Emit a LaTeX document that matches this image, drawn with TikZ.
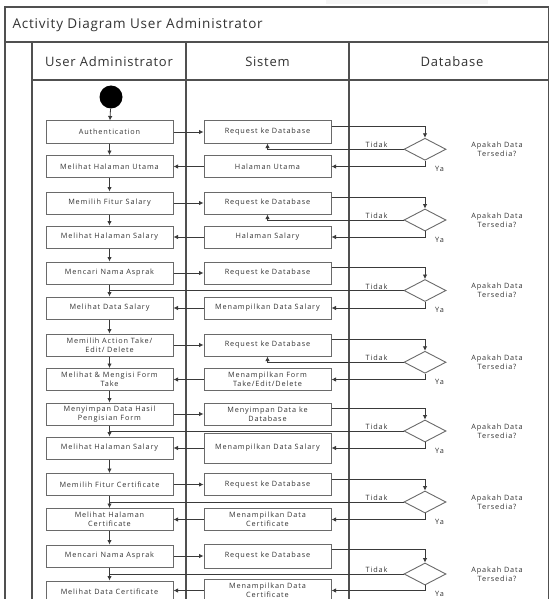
\documentclass[tikz,border=0pt]{standalone}
\usepackage{fontspec}
\setmainfont{Open Sans}
\newfontfamily\boxfont[LetterSpace=12]{Open Sans}
\newfontfamily\headfont[LetterSpace=6]{Open Sans}
\usetikzlibrary{shapes.geometric,arrows.meta,calc}
\definecolor{frame}{HTML}{505050}
\definecolor{boxline}{HTML}{6A6A6A}
\definecolor{txt}{HTML}{333333}
\definecolor{conn}{HTML}{3A3A3A}
\tikzset{
  act/.style={draw=boxline, line width=1pt, fill=white, minimum width=127pt, minimum height=22pt,
    inner sep=0pt, align=center, text=txt, font=\boxfont\fontsize{7.3}{8.6}\selectfont},
  dec/.style={diamond, draw=boxline, line width=0.9pt, fill=white, minimum width=42pt, minimum height=22pt, inner sep=0pt},
  flow/.style={draw=conn, line width=0.8pt, -{Latex[length=4.5pt,width=4.5pt]}},
  plain/.style={draw=conn, line width=0.8pt},
  small/.style={text=txt, font=\boxfont\fontsize{7.3}{8.6}\selectfont, inner sep=1pt, align=center},
  heading/.style={text=txt, font=\headfont\fontsize{13}{15}\selectfont},
  framel/.style={draw=frame, line width=1.5pt}
}
\begin{document}
\begin{tikzpicture}[x=1pt,y=-1pt]
\useasboundingbox (0,0) rectangle (550,599);
\clip (0,0) rectangle (550,599);
\fill[white] (0,0) rectangle (550,599);
\fill[gray!8] (326,0) rectangle (488,4);
% frame
\draw[framel] (5,7) rectangle (548.5,640);
\draw[framel] (5,42) -- (548.5,42);
\draw[framel] (32,42) -- (32,640);
\draw[framel] (32,80) -- (548.5,80);
\draw[framel] (186,42) -- (186,640);
\draw[framel] (349,42) -- (349,640);
\node[heading, anchor=west, font=\headfont\fontsize{13.5}{15}\selectfont] (title) at (9,25) {Activity Diagram User Administrator};
\node[heading] (h1) at (109,62) {User Administrator};
\node[heading] (h2) at (267.5,62) {Sistem};
\node[heading] (h3) at (452,62) {Database};
% start
\node[circle, fill=black, minimum size=23pt, inner sep=0pt] (start) at (111,97) {};
% admin column
\node[act] (a1) at (109.5,132) {Authentication};
\node[act] (a2) at (109.5,166.5) {Melihat Halaman Utama};
\node[act] (a3) at (109.5,203) {Memilih Fitur Salary};
\node[act] (a4) at (109.5,237) {Melihat Halaman Salary};
\node[act] (a5) at (109.5,273) {Mencari Nama Asprak};
\node[act] (a6) at (109.5,308) {Melihat Data Salary};
\node[act] (a7) at (109.5,345) {Memilih Action Take/\\Edit/ Delete};
\node[act] (a8) at (109.5,379.5) {Melihat \& Mengisi Form\\Take};
\node[act] (a9) at (109.5,414) {Menyimpan Data Hasil\\Pengisian Form};
\node[act] (a10) at (109.5,448) {Melihat Halaman Salary};
\node[act] (a11) at (109.5,484.5) {Memilih Fitur Certificate};
\node[act] (a12) at (109.5,519.5) {Melihat Halaman\\Certificate};
\node[act] (a13) at (109.5,556) {Mencari Nama Asprak};
\node[act] (a14) at (109.5,592) {Melihat Data Certificate};
% sistem column
\node[act] (s1) at (267.5,132) {Request ke Database};
\node[act] (s2) at (267.5,166.5) {Halaman Utama};
\node[act] (s3) at (267.5,203) {Request ke Database};
\node[act] (s4) at (267.5,237) {Halaman Salary};
\node[act] (s5) at (267.5,273) {Request ke Database};
\node[act] (s6) at (267.5,308) {Menampilkan Data Salary};
\node[act] (s7) at (267.5,345) {Request ke Database};
\node[act] (s8) at (267.5,379.5) {Menampilkan Form\\Take/Edit/Delete};
\node[act] (s9) at (267.5,414) {Menyimpan Data ke\\Database};
\node[act, minimum height=30pt] (s10) at (267.5,448) {Menampilkan Data Salary};
\node[act] (s11) at (267.5,484.5) {Request ke Database};
\node[act] (s12) at (267.5,519.5) {Menampilkan Data\\Certificate};
\node[act, minimum height=24pt] (s13) at (267.5,556) {Request ke Database};
\node[act, minimum height=22pt] (s14) at (267.5,590.5) {Menampilkan Data\\Certificate};
% decisions
\foreach \i/\y in {1/149.25,2/220,3/290.5,4/362.25,5/431,6/502,7/574}{
  \node[dec] (d\i) at (425,\y) {};
  \node[small] (q\i) at (497,\y) {Apakah Data\\Tersedia?};
}
% admin flow
\draw[flow] (start) -- (a1);
\foreach \i [evaluate=\i as \j using int(\i+1)] in {1,...,13}{
  \draw[flow] (a\i.south) -- (a\j.north);
}
% admin -> sistem
\foreach \i in {1,3,5,7,9,11,13}{
  \draw[flow] (a\i.east) -- (a\i.east -| s\i.west);
}
% sistem -> admin
\foreach \i in {2,4,6,8,10,12,14}{
  \draw[flow] (s\i.west) -- (s\i.west -| a\i.east);
}
% request -> decision, Ya
\foreach \k/\r/\o in {1/1/2,2/3/4,3/5/6,4/7/8,5/9/10,6/11/12,7/13/14}{
  \draw[flow] ([yshift=-6pt]s\r.north east) -| (d\k.north);
  \draw[flow] (d\k.south) |- (s\o.east);
  \node[small, anchor=west] (ya\k) at ([xshift=9pt,yshift=-8pt]d\k.south) {Ya};
  \node[small, anchor=south] (td\k) at ([xshift=-27pt]d\k.west) {Tidak};
}
% Tidak back to request
\foreach \k/\r in {1/1,2/3,4/7}{
  \draw[flow] (d\k.west) -| (s\r.south);
}
% Tidak to admin flow
\foreach \k/\r in {3/5,5/9,6/11,7/13}{
  \draw[plain] (d\k.west) -- (d\k.west -| a\r.south);
}
\end{tikzpicture}
\end{document}
